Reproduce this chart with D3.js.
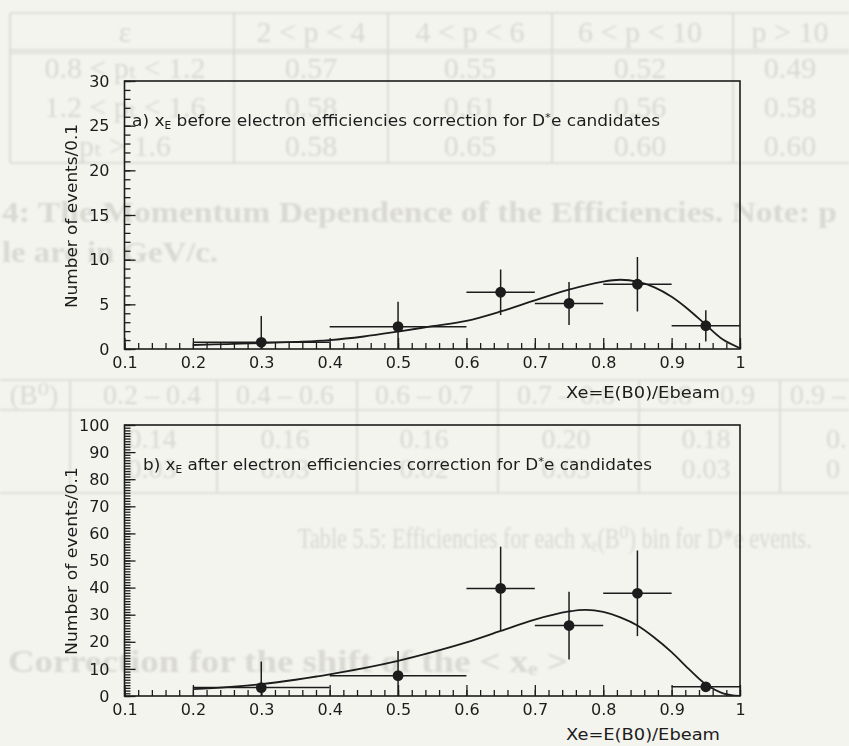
<!DOCTYPE html>
<html>
<head>
<meta charset="utf-8">
<script src="https://cdn.jsdelivr.net/npm/d3@7"></script>
<style>
  html, body { margin: 0; padding: 0; background: #f4f4ef; }
  svg { display: block; }
</style>
</head>
<body>
<script>
// ---- data: x_E bins of the D*e sample ----
const binCenters = [0.3, 0.5, 0.65, 0.75, 0.85, 0.95];
const binLow     = [0.2, 0.4, 0.6, 0.7, 0.8, 0.9];
const binHigh    = [0.4, 0.6, 0.7, 0.8, 0.9, 1.0];

// a) before electron efficiency correction
const beforeCounts = [0.75, 2.5, 6.35, 5.1, 7.25, 2.6];
const beforeErrors = [2.95, 2.8, 2.55, 2.4, 3.05, 1.75];
const beforeFitX = [0.2, 0.25, 0.3, 0.35, 0.4, 0.45, 0.5, 0.55, 0.6, 0.65, 0.7, 0.75, 0.8, 0.825, 0.85, 0.875, 0.9, 0.925, 0.95, 0.975, 1.0];
const beforeFitY = [0.45, 0.55, 0.66, 0.8, 1.0, 1.4, 1.95, 2.55, 3.15, 4.2, 5.45, 6.65, 7.55, 7.75, 7.55, 6.9, 5.85, 4.4, 2.7, 1.05, 0.1];

// b) after electron efficiency correction
const afterCounts = [3.1, 7.5, 39.7, 26.0, 37.9, 3.4];
const afterErrors = [9.6, 9.1, 15.4, 12.5, 15.8, 1.5];
const afterFitX = [0.2, 0.25, 0.3, 0.35, 0.4, 0.45, 0.5, 0.55, 0.6, 0.65, 0.7, 0.75, 0.775, 0.8, 0.825, 0.85, 0.875, 0.9, 0.925, 0.95, 0.975, 1.0];
const afterFitY = [2.5, 3.3, 4.4, 6.0, 8.0, 10.3, 13.0, 16.2, 19.8, 24.0, 28.2, 31.2, 31.8, 31.0, 29.0, 26.0, 21.5, 16.2, 10.0, 4.3, 1.0, 0.0];

// axis ticks
const xMajorTicks = [0.1, 0.2, 0.3, 0.4, 0.5, 0.6, 0.7, 0.8, 0.9, 1];
const yMajorTicksA = [0, 5, 10, 15, 20, 25, 30];
const yMajorTicksB = [0, 10, 20, 30, 40, 50, 60, 70, 80, 90, 100];

// text of the facing page that shows through the paper
const tableOneHeader = ["\u03b5", "2 < p < 4", "4 < p < 6", "6 < p < 10", "p > 10"];
const tableOneRows = [
  ["0.8 < p\u209c < 1.2", "0.57", "0.55", "0.52", "0.49"],
  ["1.2 < p\u209c < 1.6", "0.58", "0.61", "0.56", "0.58"],
  ["p\u209c > 1.6", "0.58", "0.65", "0.60", "0.60"]
];
const tableTwoHeader = ["(B\u2070)", "0.2 \u2013 0.4", "0.4 \u2013 0.6", "0.6 \u2013 0.7", "0.7 \u2013 0.8", "0.8 \u2013 0.9", "0.9 \u2013"];
const tableTwoRows = [
  ["0.14", "0.16", "0.16", "0.20", "0.18", "0."],
  ["0.03", "0.03", "0.02", "0.03", "0.03", "0"]
];

const W = 849, H = 746;
const INK = "#1c1c1c";
const GHOST = "#d9d9d2";

const svg = d3.select("body").append("svg")
  .attr("width", W).attr("height", H)
  .attr("viewBox", `0 0 ${W} ${H}`);

svg.append("rect").attr("width", W).attr("height", H).attr("fill", "#f4f4ef");

const defs = svg.append("defs");
defs.append("filter").attr("id", "soft")
  .append("feGaussianBlur").attr("stdDeviation", 0.9);

// ---------- faint page underneath ----------
const ghost = svg.append("g").attr("fill", GHOST).attr("stroke", "none")
  .attr("filter", "url(#soft)")
  .style("font-family", "'Liberation Serif', 'DejaVu Serif', serif");

function ghostLine(x1, y1, x2, y2) {
  ghost.append("line").attr("x1", x1).attr("y1", y1).attr("x2", x2).attr("y2", y2)
    .attr("stroke", GHOST).attr("stroke-width", 1.6);
}
function ghostText(txt, x, y, size, anchor, bold) {
  return ghost.append("text").attr("x", x).attr("y", y)
    .attr("text-anchor", anchor || "middle")
    .style("font-size", size + "px")
    .style("font-weight", bold ? "bold" : "normal")
    .text(txt);
}

// first table
ghostLine(10, 13, W, 13);
ghostLine(10, 50, W, 50);
ghostLine(10, 53, W, 53);
ghostLine(10, 163, W, 163);
[10, 234, 388, 552, 733].forEach(x => ghostLine(x, 13, x, 163));
const t1Cols = [125, 311, 470, 640, 790];
const t1RowY = [42, 78, 117, 156];
tableOneHeader.forEach((t, i) => ghostText(t, t1Cols[i], t1RowY[0], 30));
tableOneRows.forEach((row, r) => row.forEach((t, i) => ghostText(t, t1Cols[i], t1RowY[r + 1], 30)));
ghostText("4: The Momentum Dependence of the Efficiencies.  Note: p", 2, 222, 30, "start", true)
  .attr("textLength", 835).attr("lengthAdjust", "spacingAndGlyphs");
ghostText("le are in GeV/c.", 2, 262, 30, "start", true)
  .attr("textLength", 216).attr("lengthAdjust", "spacingAndGlyphs");

// second table
ghostLine(0, 380, W, 380);
ghostLine(0, 410, W, 410);
ghostLine(0, 493, W, 493);
[70, 217, 357, 498, 639, 780].forEach(x => ghostLine(x, 380, x, 493));
const t2Cols = [34, 152, 285, 424, 566, 706];
tableTwoHeader.forEach((t, i) => {
  if (i < 6) ghostText(t, t2Cols[i], 404, 28);
  else ghostText(t, 790, 404, 28, "start");
});
tableTwoRows.forEach((row, r) => row.forEach((t, i) => {
  if (i < 5) ghostText(t, t2Cols[i + 1], r === 0 ? 448 : 478, 28);
  else ghostText(t, 826, r === 0 ? 448 : 478, 28, "start");
}));
// caption set in a narrowed serif
ghost.append("g").attr("transform", "translate(298,548) scale(0.74,1)")
  .append("text").attr("x", 0).attr("y", 0)
  .style("font-size", "30px")
  .text("Table 5.5: Efficiencies for each x\u2091(B\u2070) bin for D*e events.");
ghostText("Correction for the shift of the < x\u2091 >", 8, 672, 32, "start", true)
  .attr("textLength", 560).attr("lengthAdjust", "spacingAndGlyphs");

// ---------- the two histograms ----------
const FONT = "'DejaVu Sans', 'Liberation Sans', sans-serif";

function drawPanel(opt) {
  const x = d3.scaleLinear().domain([0.1, 1.0]).range([124.5, 740]);
  const y = d3.scaleLinear().domain([0, opt.yMax]).range([opt.bottom, opt.top]);
  const g = svg.append("g");

  // frame
  g.append("rect")
    .attr("x", x(0.1)).attr("y", y(opt.yMax))
    .attr("width", x(1.0) - x(0.1)).attr("height", y(0) - y(opt.yMax))
    .attr("fill", "none").attr("stroke", INK).attr("stroke-width", 1.6);

  // x axis: labelled major ticks + minor ticks, all pointing inward
  const xMinor = d3.range(10, 101, 2).map(v => v / 100);
  g.append("g").attr("transform", `translate(0,${y(0)})`)
    .call(d3.axisBottom(x).tickValues(xMinor).tickSizeInner(-6).tickSizeOuter(0).tickFormat(""))
    .call(a => a.select(".domain").remove());
  g.append("g").attr("transform", `translate(0,${y(0)})`)
    .call(d3.axisBottom(x).tickValues(xMajorTicks).tickSizeInner(-11).tickSizeOuter(0)
      .tickPadding(8).tickFormat(d3.format("~g")))
    .call(a => a.select(".domain").remove());

  // y axis
  const yMinor = d3.range(0, opt.yMax + 0.001, opt.yMinorStep);
  g.append("g").attr("transform", `translate(${x(0.1)},0)`)
    .call(d3.axisLeft(y).tickValues(yMinor).tickSizeInner(-6).tickSizeOuter(0).tickFormat(""))
    .call(a => a.select(".domain").remove());
  g.append("g").attr("transform", `translate(${x(0.1)},0)`)
    .call(d3.axisLeft(y).tickValues(opt.yTicks).tickSizeInner(-11).tickSizeOuter(0)
      .tickPadding(15).tickFormat(d3.format("d")))
    .call(a => a.select(".domain").remove());

  g.selectAll(".tick line").attr("stroke", INK).attr("stroke-width", 1.3);
  g.selectAll(".tick text").attr("fill", INK)
    .attr("font-family", FONT).attr("font-size", 16)
    .style("font-family", FONT).style("font-size", "16px");

  // fitted curve
  const clipId = "clip-" + opt.id;
  g.append("clipPath").attr("id", clipId).append("rect")
    .attr("x", x(0.1)).attr("y", y(opt.yMax))
    .attr("width", x(1.0) - x(0.1)).attr("height", y(0) - y(opt.yMax));
  const line = d3.line().x(d => x(d[0])).y(d => y(d[1])).curve(d3.curveCatmullRom.alpha(0.5));
  g.append("path")
    .datum(d3.zip(opt.fitX, opt.fitY))
    .attr("clip-path", `url(#${clipId})`)
    .attr("d", line)
    .attr("fill", "none").attr("stroke", INK).attr("stroke-width", 1.8);

  // data points with bin-width and statistical error bars
  const pts = binCenters.map((c, i) => ({
    c, lo: binLow[i], hi: binHigh[i], v: opt.counts[i], e: opt.errors[i]
  }));
  const pg = g.append("g").attr("stroke", INK).attr("stroke-width", 1.5);
  pg.selectAll("line.h").data(pts).join("line").attr("class", "h")
    .attr("x1", d => x(d.lo)).attr("x2", d => x(d.hi))
    .attr("y1", d => y(d.v)).attr("y2", d => y(d.v));
  pg.selectAll("line.v").data(pts).join("line").attr("class", "v")
    .attr("x1", d => x(d.c)).attr("x2", d => x(d.c))
    .attr("y1", d => y(Math.max(0, d.v - d.e))).attr("y2", d => y(d.v + d.e));
  g.selectAll("circle").data(pts).join("circle")
    .attr("cx", d => x(d.c)).attr("cy", d => y(d.v)).attr("r", 5.4)
    .attr("fill", INK);

  // panel title
  const title = g.append("text")
    .attr("x", opt.titleX).attr("y", opt.titleY)
    .attr("fill", INK).style("font-family", FONT).style("font-size", "16px")
    .attr("textLength", opt.titleLen).attr("lengthAdjust", "spacingAndGlyphs");
  title.append("tspan").text(opt.tag + " x");
  title.append("tspan").attr("dy", 3).style("font-size", "10px").text("E");
  title.append("tspan").attr("dy", -3).text(" " + opt.when + " electron efficiencies correction for D");
  title.append("tspan").attr("dy", -5).style("font-size", "11px").text("*");
  title.append("tspan").attr("dy", 5).text("e candidates");

  // axis titles
  g.append("text")
    .attr("transform", `translate(${opt.yLabelX},${opt.yLabelY}) rotate(-90)`)
    .attr("text-anchor", "middle").attr("fill", INK)
    .style("font-family", FONT).style("font-size", "16px")
    .attr("textLength", opt.yLabelLen).attr("lengthAdjust", "spacingAndGlyphs")
    .text("Number of events/0.1");
  g.append("text")
    .attr("x", 720).attr("y", opt.xLabelY)
    .attr("text-anchor", "end").attr("fill", INK)
    .style("font-family", FONT).style("font-size", "16px")
    .attr("textLength", 154).attr("lengthAdjust", "spacingAndGlyphs")
    .text("Xe=E(B0)/Ebeam");
}

drawPanel({
  id: "a", top: 81, bottom: 349, yMax: 30, yTicks: yMajorTicksA, yMinorStep: 1,
  counts: beforeCounts, errors: beforeErrors, fitX: beforeFitX, fitY: beforeFitY,
  tag: "a)", when: "before", titleX: 132, titleY: 126, titleLen: 528,
  yLabelX: 77, yLabelY: 216, yLabelLen: 184, xLabelY: 398
});
drawPanel({
  id: "b", top: 425, bottom: 696, yMax: 100, yTicks: yMajorTicksB, yMinorStep: 1,
  counts: afterCounts, errors: afterErrors, fitX: afterFitX, fitY: afterFitY,
  tag: "b)", when: "after", titleX: 143, titleY: 470, titleLen: 509,
  yLabelX: 77, yLabelY: 561, yLabelLen: 188, xLabelY: 740
});
</script>
</body>
</html>
